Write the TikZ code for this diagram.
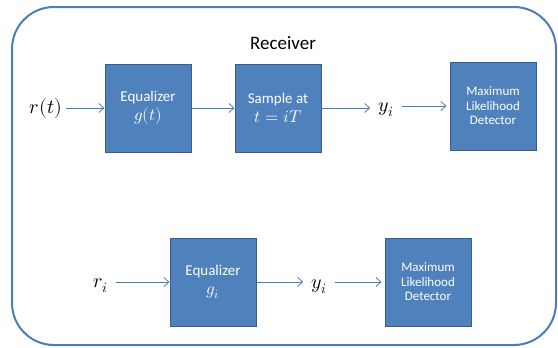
\documentclass[tikz,border=0pt]{standalone}
\usepackage{unicode-math}
\setmainfont{Carlito}
\setmathfont{Latin Modern Math}
\usetikzlibrary{arrows.meta}
\definecolor{boxblue}{HTML}{4F81BD}
\definecolor{boxedge}{HTML}{385D8A}
\definecolor{linblue}{HTML}{4A7EBB}
\newcommand{\boxmath}[1]{{\fontsize{17}{20}\selectfont$#1$}}
\begin{document}
\begin{tikzpicture}[x=1pt,y=-1pt,
  blk/.style={draw=boxedge,line width=1pt,fill=boxblue,text=white,minimum width=86pt,minimum height=88pt,align=center,inner sep=1pt},
  lbl/.style={inner sep=0pt,font=\fontsize{20}{23}\selectfont},
  arr/.style={draw=linblue,line width=0.8pt,-{Straight Barb[length=5pt,width=9pt]}}]
\useasboundingbox (0,0) rectangle (558,348);
\draw[draw=linblue,line width=2pt,rounded corners=42pt] (12,7) rectangle (556,345);
\node[inner sep=0pt,font=\fontsize{19}{22}\selectfont] (title) at (283,43) {Receiver};
% top row
\node[lbl] (rt) at (46,108) {$r(t)$};
\node[blk,font=\fontsize{15}{19}\selectfont] (eq1) at (148,108) {Equalizer\\\boxmath{g(t)}};
\node[blk,font=\fontsize{15}{19}\selectfont] (smp) at (278,108) {Sample at\\\boxmath{t=iT}};
\node[lbl] (y1) at (386,110) {$y_i$};
\node[blk,font=\fontsize{13}{14.5}\selectfont] (mld1) at (493,106) {Maximum\\Likelihood\\Detector};
\draw[arr] ([xshift=4pt]rt.east) -- (eq1.west);
\draw[arr] (eq1.east) -- (smp.west);
\draw[arr] (smp.east) -- ([xshift=-8pt]y1.west |- smp.east);
\draw[arr] ([xshift=8pt]y1.east |- mld1.west) -- ([xshift=-3pt]mld1.west);
% bottom row
\node[lbl] (ri) at (101,286) {$r_i$};
\node[blk,font=\fontsize{15}{19}\selectfont] (eq2) at (213,282) {Equalizer\\\boxmath{g_i}};
\node[lbl] (y2) at (319,287) {$y_i$};
\node[blk,font=\fontsize{13}{14.5}\selectfont] (mld2) at (428,282) {Maximum\\Likelihood\\Detector};
\draw[arr] ([xshift=8pt]ri.east |- eq2.west) -- (eq2.west);
\draw[arr] (eq2.east) -- ([xshift=-8pt]y2.west |- eq2.east);
\draw[arr] ([xshift=8pt]y2.east |- mld2.west) -- ([xshift=-3pt]mld2.west);
\end{tikzpicture}
\end{document}
